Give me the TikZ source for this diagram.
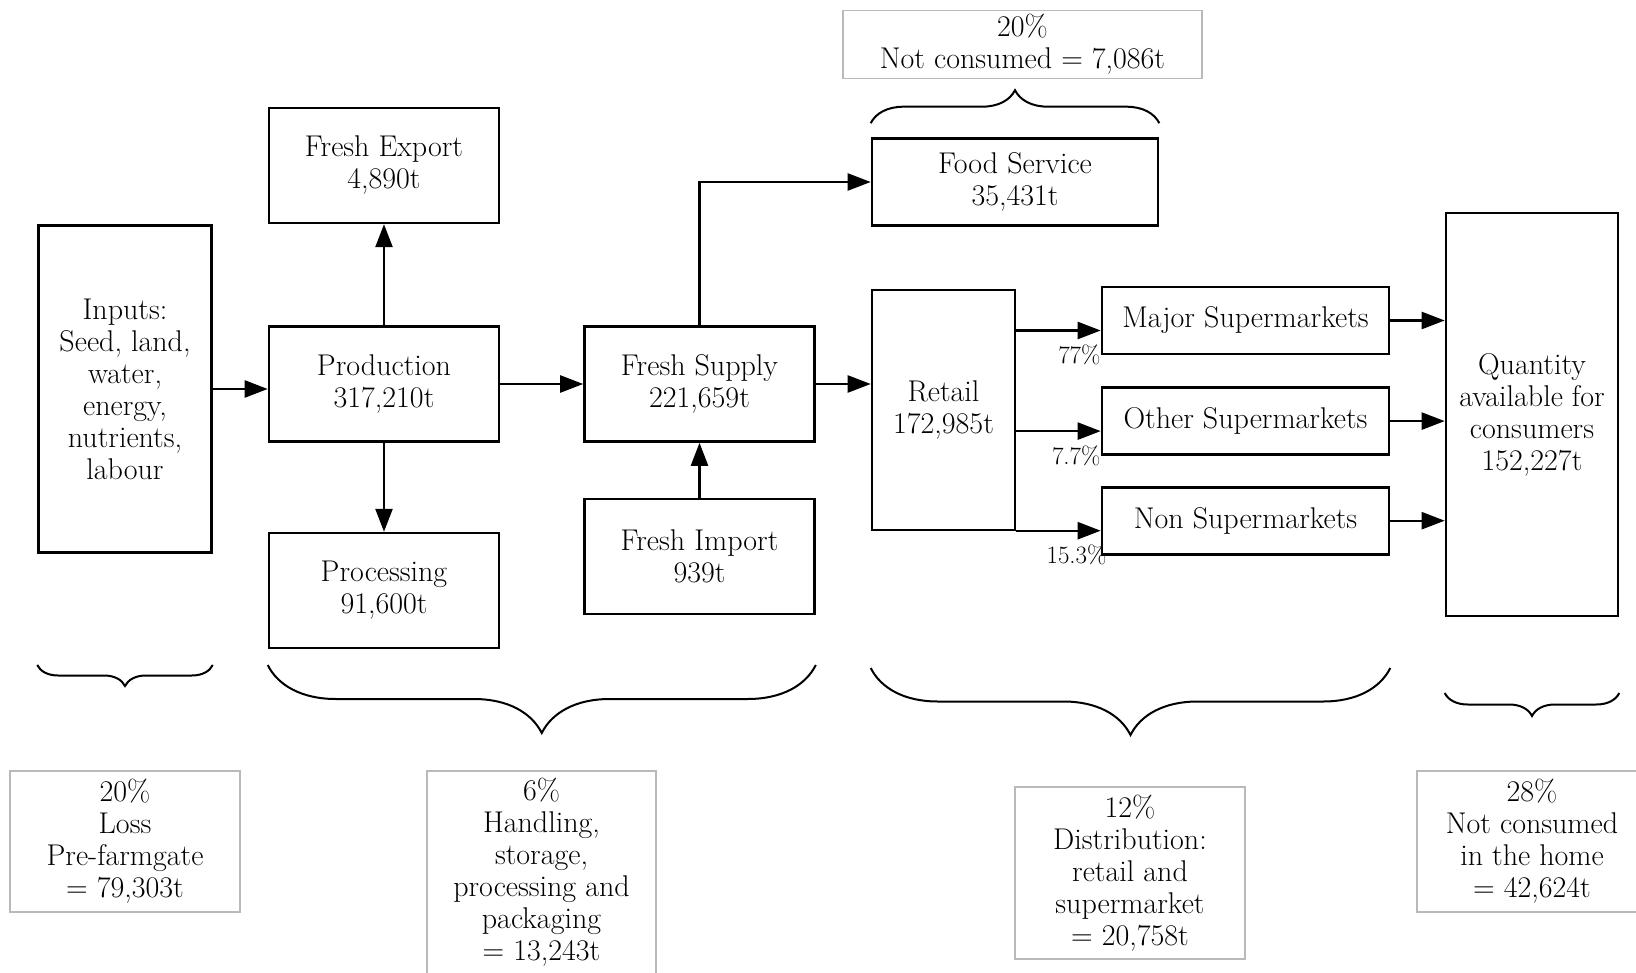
\documentclass[tikz,border=0pt]{standalone}
\usetikzlibrary{arrows.meta,positioning,decorations.pathreplacing}

\begin{document}
\begin{tikzpicture}[
		x=1pt, y=-1pt,
		every node/.style={align=center, inner sep=0pt, font=\fontsize{30}{32}\selectfont},
		box/.style={draw, line width=2.6pt},
		stage/.style={box, minimum width=230pt, minimum height=115pt},
		shop/.style={box, minimum width=287pt, minimum height=67pt},
		loss/.style={draw=gray!55, line width=1.3pt},
		pct/.style={anchor=north east, font=\fontsize{25}{27}\selectfont},
		flow/.style={line width=2.4pt, -{Triangle[length=23pt,width=17pt]}},
		brace down/.style={decorate, decoration={brace, mirror, amplitude=#1}, line width=2pt},
		brace up/.style={decorate, decoration={brace, amplitude=#1}, line width=2pt}
		]
		\useasboundingbox (0,0) rectangle (1636,973);
		\clip (0,0) rectangle (1636,973);
		% Farm and production
		\node (inputs) [box, minimum width=173pt, minimum height=327pt] at (125,389) {Inputs:\\Seed, land,\\water,\\energy,\\nutrients,\\labour};
		\node (prod) [stage] at (384,384) {Production\\317,210t};
		\node (export) [stage, above=101pt of prod] {Fresh Export\\4,890t};
		\node (proc) [stage, below=89pt of prod] {Processing\\91,600t};
		% Supply and retail
		\node (supply) [stage] at (699.5,384) {Fresh Supply\\221,659t};
		\node (import) [stage, below=55pt of supply] {Fresh Import\\939t};
		\node (food) [box, minimum width=286pt, minimum height=87pt] at (1015,182) {Food Service\\35,431t};
		\node (retail) [box, minimum width=143pt, minimum height=240pt] at (943.5,410) {Retail\\172,985t};
		% Supermarkets
		\node (major) [shop] at (1245.5,320.5) {Major Supermarkets};
		\node (other) [shop, below=31pt of major] {Other Supermarkets};
		\node (non) [shop, below=30pt of other] {Non Supermarkets};
		\node (qty) [box, minimum width=172pt, minimum height=403pt] at (1532,414.5) {Quantity\\available for\\consumers\\152,227t};
		% Shares of retail
		\node (p77) [pct] at ([yshift=-24pt]major.west) {77\%};
		\node (p7) [pct] at ([yshift=-24pt]other.west) {7.7\%};
		\node (p15) [pct] at ([xshift=6pt,yshift=-24pt]non.west) {15.3\%};
		% Flows
		\draw[flow] (inputs.east) -- (inputs.east -| prod.west);
		\draw[flow] (prod) -- (export);
		\draw[flow] (prod) -- (proc);
		\draw[flow] (prod) -- (supply);
		\draw[flow] (supply) |- (food);
		\draw[flow] (import) -- (supply);
		\draw[flow] (supply.east) -- (supply.east -| retail.west);
		\foreach \s in {major, other, non} {
			\coordinate (\s in) at ([yshift=-10pt]\s.west);
			\draw[flow] (\s in -| retail.east) -- (\s in);
			\draw[flow] (\s.east) -- (\s.east -| qty.west);
		}
		% Losses
		\node (foodloss) [loss, minimum width=359pt, minimum height=68pt] at (1022.5,44.4) {20\%\\Not consumed = 7,086t};
		\node (farmloss) [loss, minimum width=230pt, minimum height=141pt] at (125,841.5) {20\%\\Loss\\Pre-farmgate\\= 79,303t};
		\node (handling) [loss, minimum width=229pt, minimum height=203pt] at (541.5,872.5) {6\%\\Handling,\\storage,\\processing and\\packaging\\= 13,243t};
		\node (distrib) [loss, minimum width=230pt, minimum height=172pt] at (1130,873) {12\%\\Distribution:\\retail and\\supermarket\\= 20,758t};
		\node (homeloss) [loss, minimum width=230pt, minimum height=141pt] at (1532,841.5) {28\%\\Not consumed\\in the home\\= 42,624t};
		% Braces
		\coordinate (brace row) at (0,665);
		\draw[brace down=21pt] (inputs.west |- brace row) -- (inputs.east |- brace row);
		\draw[brace down=68pt] (proc.west |- brace row) -- (import.east |- brace row);
		\draw[brace down=67pt] ([yshift=-3pt]retail.west |- brace row) -- ([yshift=-3pt]non.east |- brace row);
		\draw[brace down=23pt] ([yshift=-28pt]qty.west |- brace row) -- ([yshift=-28pt]qty.east |- brace row);
		\draw[brace up=33pt] ([yshift=14pt]food.north west) -- ([yshift=14pt]food.north east);
\end{tikzpicture}
\end{document}
